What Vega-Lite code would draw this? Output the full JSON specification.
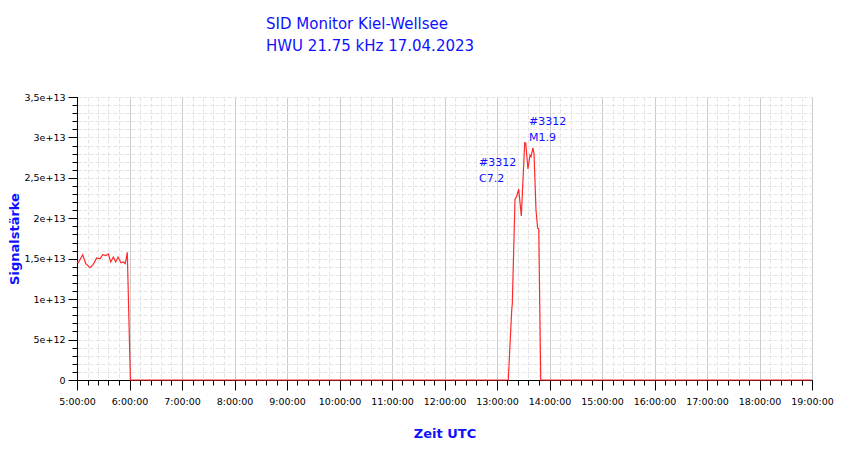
{
  "$schema": "https://vega.github.io/schema/vega-lite/v6.json",
  "autosize": "none",
  "width": 735,
  "height": 283,
  "padding": {"left": 77, "top": 97, "right": 38, "bottom": 79},
  "background": "white",
  "view": {"stroke": null},
  "title": {
    "text": ["SID Monitor Kiel-Wellsee", "HWU 21.75 kHz 17.04.2023"],
    "anchor": "start",
    "frame": "group",
    "dx": 189,
    "offset": 38,
    "font": "DejaVu Sans",
    "fontSize": 15,
    "fontWeight": "normal",
    "color": "#1010ff",
    "lineHeight": 22
  },
  "config": {
    "font": "DejaVu Sans",
    "axis": {"labelFont": "DejaVu Sans", "titleFont": "DejaVu Sans"}
  },
  "layer": [
    {
      "data": {
        "values": [
          {"hour": 5.0, "signal": 1.46e13},
          {"hour": 5.025, "signal": 1.45e13},
          {"hour": 5.108, "signal": 1.55e13},
          {"hour": 5.167, "signal": 1.44e13},
          {"hour": 5.25, "signal": 1.39e13},
          {"hour": 5.31, "signal": 1.43e13},
          {"hour": 5.375, "signal": 1.51e13},
          {"hour": 5.438, "signal": 1.50e13},
          {"hour": 5.49, "signal": 1.55e13},
          {"hour": 5.552, "signal": 1.54e13},
          {"hour": 5.597, "signal": 1.56e13},
          {"hour": 5.642, "signal": 1.46e13},
          {"hour": 5.692, "signal": 1.52e13},
          {"hour": 5.737, "signal": 1.46e13},
          {"hour": 5.782, "signal": 1.52e13},
          {"hour": 5.838, "signal": 1.45e13},
          {"hour": 5.882, "signal": 1.46e13},
          {"hour": 5.92, "signal": 1.44e13},
          {"hour": 5.958, "signal": 1.58e13},
          {"hour": 6.017, "signal": 0},
          {"hour": 13.215, "signal": 0},
          {"hour": 13.28, "signal": 0.86e13},
          {"hour": 13.292, "signal": 0.95e13},
          {"hour": 13.343, "signal": 2.235e13},
          {"hour": 13.375, "signal": 2.27e13},
          {"hour": 13.413, "signal": 2.36e13},
          {"hour": 13.463, "signal": 2.03e13},
          {"hour": 13.528, "signal": 2.935e13},
          {"hour": 13.547, "signal": 2.93e13},
          {"hour": 13.59, "signal": 2.61e13},
          {"hour": 13.628, "signal": 2.78e13},
          {"hour": 13.648, "signal": 2.76e13},
          {"hour": 13.685, "signal": 2.87e13},
          {"hour": 13.705, "signal": 2.80e13},
          {"hour": 13.743, "signal": 2.10e13},
          {"hour": 13.775, "signal": 1.875e13},
          {"hour": 13.795, "signal": 1.87e13},
          {"hour": 13.833, "signal": 0},
          {"hour": 19.0, "signal": 0}
        ]
      },
      "mark": {"type": "line", "color": "#ff2a2a", "strokeWidth": 1.2},
      "encoding": {
        "x": {
          "field": "hour",
          "type": "quantitative",
          "scale": {"domain": [5, 19], "nice": false, "zero": false},
          "axis": {
            "orient": "bottom",
            "title": null,
            "labels": false,
            "domain": false,
            "tickCount": 70,
            "tickSize": 5,
            "tickColor": "black",
            "grid": true,
            "gridColor": "#e4e4e4",
            "gridDash": [4, 2],
            "gridWidth": 1
          }
        },
        "y": {
          "field": "signal",
          "type": "quantitative",
          "scale": {"domain": [0, 3.5e13], "nice": false, "zero": true},
          "axis": {
            "orient": "left",
            "title": null,
            "labels": false,
            "domain": false,
            "tickCount": 35,
            "tickSize": 5,
            "tickColor": "black",
            "grid": true,
            "gridColor": "#e4e4e4",
            "gridDash": [4, 2],
            "gridWidth": 1
          }
        }
      }
    },
    {
      "data": {
        "values": [
          {"hour": 12.657, "signal": 2.76e13, "label": "#3312\nC7.2"},
          {"hour": 13.61, "signal": 3.265e13, "label": "#3312\nM1.9"}
        ]
      },
      "mark": {
        "type": "text",
        "align": "left",
        "baseline": "top",
        "color": "#1010ff",
        "font": "DejaVu Sans",
        "fontSize": 11,
        "lineHeight": 16,
        "lineBreak": "\n"
      },
      "encoding": {
        "x": {
          "field": "hour",
          "type": "quantitative",
          "axis": {
            "orient": "bottom",
            "title": "Zeit UTC",
            "titleColor": "#1010ff",
            "titleFontSize": 13,
            "titleFontWeight": "bold",
            "titlePadding": 22,
            "values": [5, 6, 7, 8, 9, 10, 11, 12, 13, 14, 15, 16, 17, 18, 19],
            "labelExpr": "datum.value + ':00:00'",
            "labelFontSize": 9.5,
            "labelColor": "black",
            "labelPadding": 6,
            "labelFlush": false,
            "labelOverlap": false,
            "domainColor": "black",
            "tickColor": "black",
            "tickSize": 10,
            "grid": true,
            "gridColor": "#cccccc",
            "gridWidth": 1
          }
        },
        "y": {
          "field": "signal",
          "type": "quantitative",
          "axis": {
            "orient": "left",
            "title": "Signalstärke",
            "titleColor": "#1010ff",
            "titleFontSize": 13,
            "titleFontWeight": "bold",
            "titleX": -63,
            "titleBaseline": "middle",
            "values": [0, 5e12, 1e13, 1.5e13, 2e13, 2.5e13, 3e13, 3.5e13],
            "labelExpr": "datum.value == 0 ? '0' : replace(format(datum.value, '~e'), '.', ',')",
            "labelFontSize": 9.5,
            "labelColor": "black",
            "labelPadding": 3,
            "labelFlush": false,
            "domainColor": "black",
            "tickColor": "black",
            "tickSize": 9,
            "grid": false
          }
        },
        "text": {"field": "label", "type": "nominal"}
      }
    }
  ],
  "resolve": {"axis": {"x": "independent", "y": "independent"}}
}
